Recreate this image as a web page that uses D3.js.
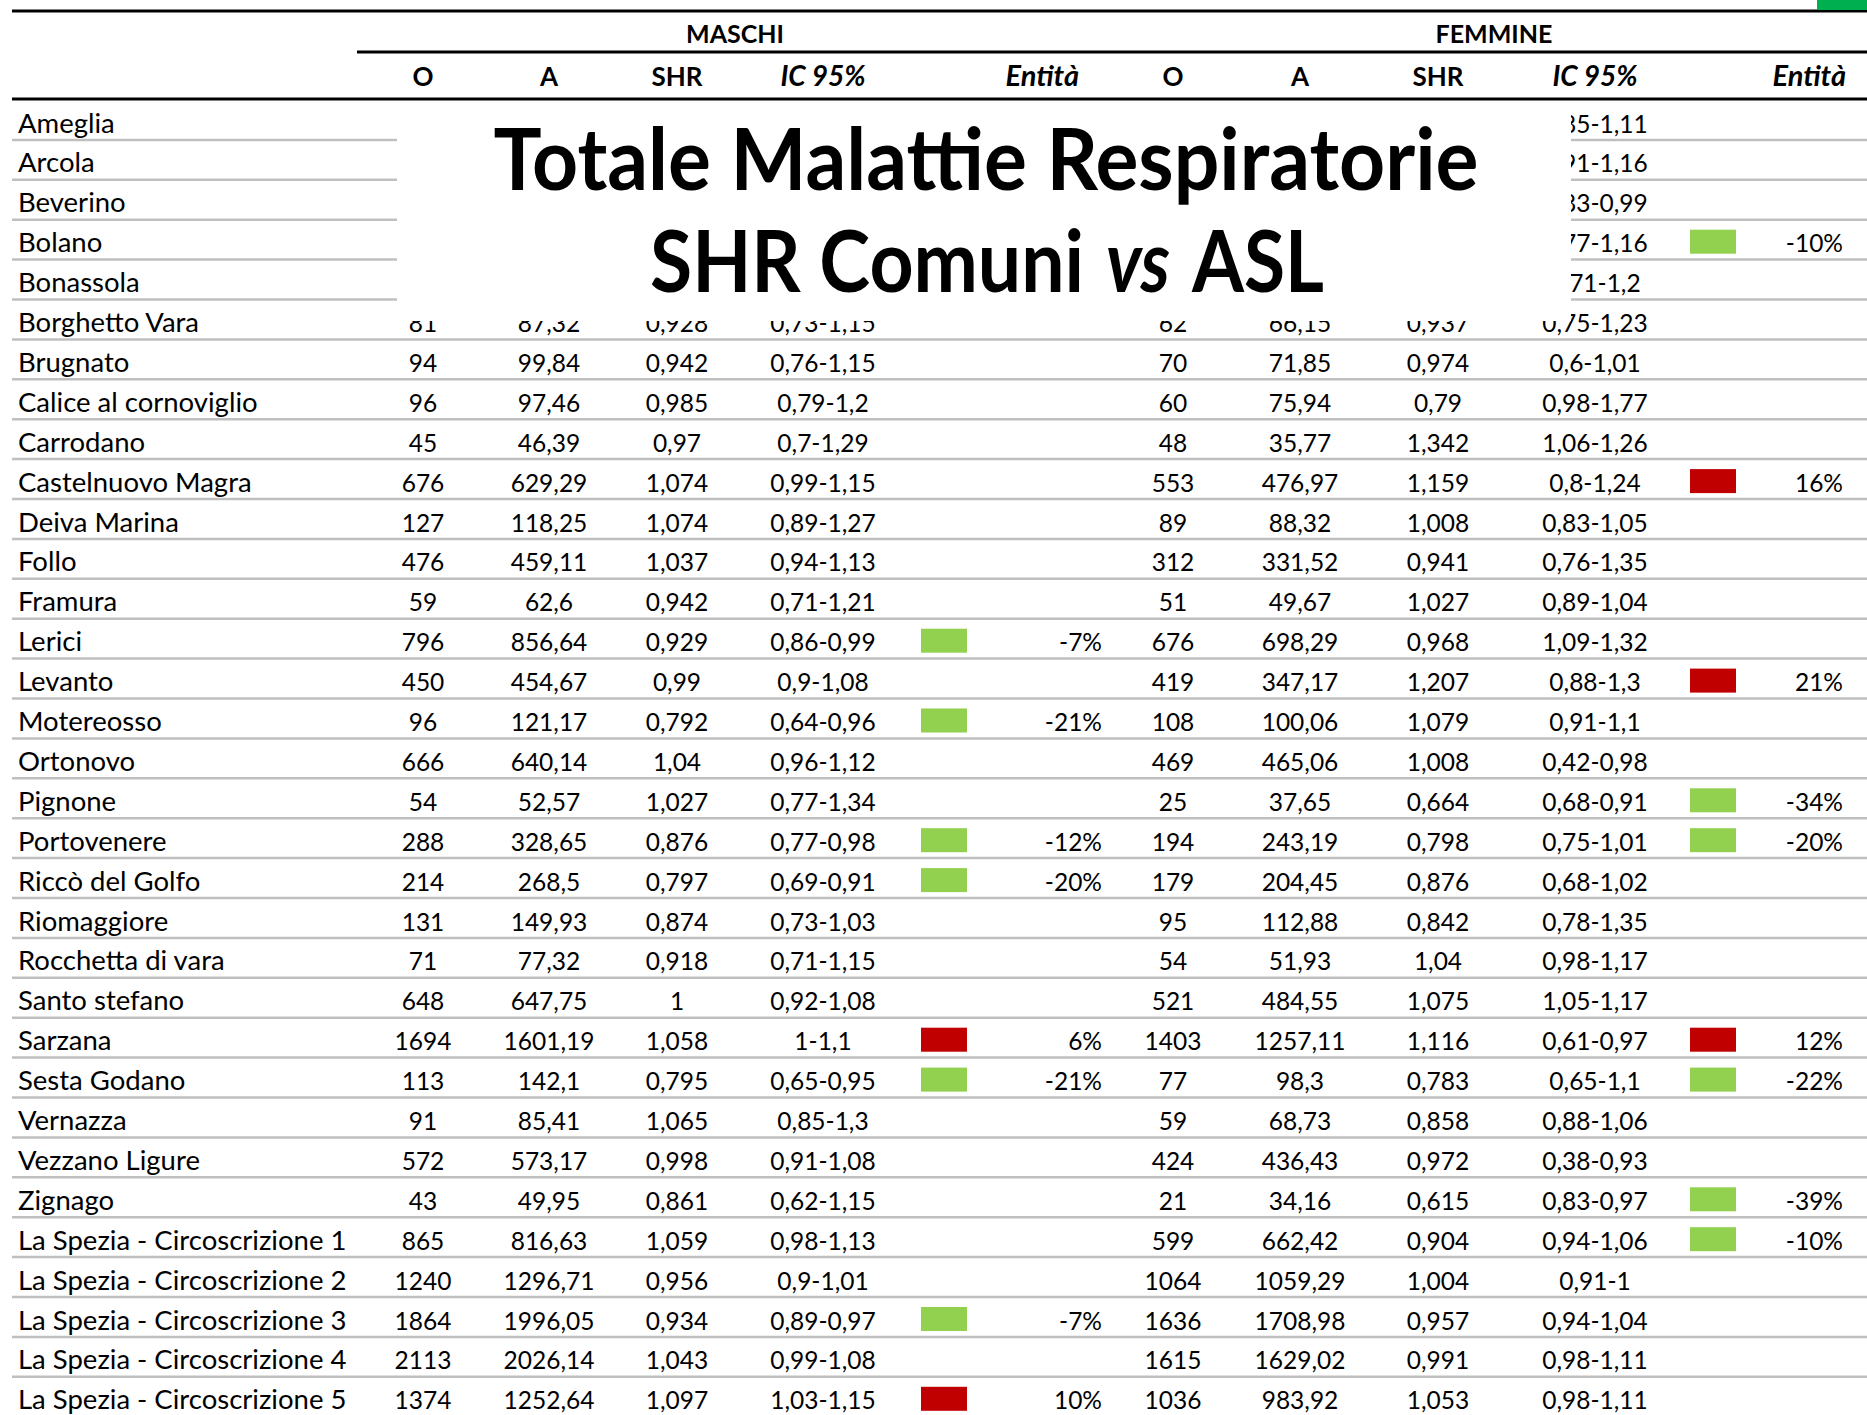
<!DOCTYPE html>
<html>
<head>
<meta charset="utf-8">
<script src="https://cdn.jsdelivr.net/npm/d3@7"></script>
<style>
  body { margin: 0; background: #fff; }
  svg { display: block; }
  text { font-family: Lato, "Open Sans", sans-serif; fill: #000; }
</style>
</head>
<body>
<div class="chart"></div>
<script>
var svgWidth = 1867;
var svgHeight = 1415;

// comuni (rows)
var comuni = ["Ameglia", "Arcola", "Beverino", "Bolano", "Bonassola", "Borghetto Vara", "Brugnato",
  "Calice al cornoviglio", "Carrodano", "Castelnuovo Magra", "Deiva Marina", "Follo", "Framura",
  "Lerici", "Levanto", "Motereosso", "Ortonovo", "Pignone", "Portovenere", "Riccò del Golfo",
  "Riomaggiore", "Rocchetta di vara", "Santo stefano", "Sarzana", "Sesta Godano", "Vernazza",
  "Vezzano Ligure", "Zignago", "La Spezia - Circoscrizione 1", "La Spezia - Circoscrizione 2",
  "La Spezia - Circoscrizione 3", "La Spezia - Circoscrizione 4", "La Spezia - Circoscrizione 5"];

// MASCHI (first five rows are hidden under the title box)
var mO   = [null, null, null, null, null, 81, 94, 96, 45, 676, 127, 476, 59, 796, 450, 96, 666, 54, 288, 214, 131, 71, 648, 1694, 113, 91, 572, 43, 865, 1240, 1864, 2113, 1374];
var mA   = [null, null, null, null, null, 87.32, 99.84, 97.46, 46.39, 629.29, 118.25, 459.11, 62.6, 856.64, 454.67, 121.17, 640.14, 52.57, 328.65, 268.5, 149.93, 77.32, 647.75, 1601.19, 142.1, 85.41, 573.17, 49.95, 816.63, 1296.71, 1996.05, 2026.14, 1252.64];
var mSHR = [null, null, null, null, null, 0.928, 0.942, 0.985, 0.97, 1.074, 1.074, 1.037, 0.942, 0.929, 0.99, 0.792, 1.04, 1.027, 0.876, 0.797, 0.874, 0.918, 1, 1.058, 0.795, 1.065, 0.998, 0.861, 1.059, 0.956, 0.934, 1.043, 1.097];
var mLo  = [null, null, null, null, null, 0.73, 0.76, 0.79, 0.7, 0.99, 0.89, 0.94, 0.71, 0.86, 0.9, 0.64, 0.96, 0.77, 0.77, 0.69, 0.73, 0.71, 0.92, 1, 0.65, 0.85, 0.91, 0.62, 0.98, 0.9, 0.89, 0.99, 1.03];
var mHi  = [null, null, null, null, null, 1.15, 1.15, 1.2, 1.29, 1.15, 1.27, 1.13, 1.21, 0.99, 1.08, 0.96, 1.12, 1.34, 0.98, 0.91, 1.03, 1.15, 1.08, 1.1, 0.95, 1.3, 1.08, 1.15, 1.13, 1.01, 0.97, 1.08, 1.15];
var mEnt = [null, null, null, null, null, null, null, null, null, null, null, null, null, -7, null, -21, null, null, -12, -20, null, null, null, 6, -21, null, null, null, null, null, -7, null, 10];

// FEMMINE
var fO   = [null, null, null, null, null, 62, 70, 60, 48, 553, 89, 312, 51, 676, 419, 108, 469, 25, 194, 179, 95, 54, 521, 1403, 77, 59, 424, 21, 599, 1064, 1636, 1615, 1036];
var fA   = [null, null, null, null, null, 66.15, 71.85, 75.94, 35.77, 476.97, 88.32, 331.52, 49.67, 698.29, 347.17, 100.06, 465.06, 37.65, 243.19, 204.45, 112.88, 51.93, 484.55, 1257.11, 98.3, 68.73, 436.43, 34.16, 662.42, 1059.29, 1708.98, 1629.02, 983.92];
var fSHR = [null, null, null, null, null, 0.937, 0.974, 0.79, 1.342, 1.159, 1.008, 0.941, 1.027, 0.968, 1.207, 1.079, 1.008, 0.664, 0.798, 0.876, 0.842, 1.04, 1.075, 1.116, 0.783, 0.858, 0.972, 0.615, 0.904, 1.004, 0.957, 0.991, 1.053];
var fLo  = [0.85, 0.91, 0.83, 0.77, 0.71, 0.75, 0.6, 0.98, 1.06, 0.8, 0.83, 0.76, 0.89, 1.09, 0.88, 0.91, 0.42, 0.68, 0.75, 0.68, 0.78, 0.98, 1.05, 0.61, 0.65, 0.88, 0.38, 0.83, 0.94, 0.91, 0.94, 0.98, 0.98];
var fHi  = [1.11, 1.16, 0.99, 1.16, 1.2, 1.23, 1.01, 1.77, 1.26, 1.24, 1.05, 1.35, 1.04, 1.32, 1.3, 1.1, 0.98, 0.91, 1.01, 1.02, 1.35, 1.17, 1.17, 0.97, 1.1, 1.06, 0.93, 0.97, 1.06, 1, 1.04, 1.11, 1.11];
var fEnt = [null, null, null, -10, null, null, null, null, null, 16, null, null, null, null, 21, null, null, -34, -20, null, null, null, null, 12, -22, null, null, -39, -10, null, null, null, null];

var colonne = ["O", "A", "SHR", "IC 95%", "Entità"];
var gruppi = ["MASCHI", "FEMMINE"];
var titolo1 = "Totale Malattie Respiratorie";

var fmt = function(v) { return String(v).replace(".", ","); };

var svg = d3.select(".chart")
  .append("svg")
  .attr("width", svgWidth)
  .attr("height", svgHeight);

var rowY = d3.scaleBand()
  .domain(d3.range(comuni.length))
  .range([100, 100 + 39.9 * comuni.length]);

// column centres for each group
var xM = d3.scaleOrdinal().domain(["O", "A", "SHR", "IC", "box", "ent", "head"]).range([423, 549, 677, 823, 921, 1102, 1079]);
var xF = d3.scaleOrdinal().domain(["O", "A", "SHR", "IC", "box", "ent", "head"]).range([1173, 1300, 1438, 1595, 1690, 1843, 1846]);

var groups = [
  { x: xM, O: mO, A: mA, SHR: mSHR, lo: mLo, hi: mHi, ent: mEnt, name: gruppi[0], cx: 735 },
  { x: xF, O: fO, A: fA, SHR: fSHR, lo: fLo, hi: fHi, ent: fEnt, name: gruppi[1], cx: 1494 }
];

// row separators
svg.append("g").selectAll("line")
  .data(comuni)
  .enter().append("line")
  .attr("x1", 12).attr("x2", svgWidth)
  .attr("y1", (d, i) => rowY(i) + rowY.bandwidth())
  .attr("y2", (d, i) => rowY(i) + rowY.bandwidth())
  .attr("stroke", "#bfbfbf")
  .attr("stroke-width", 2.5);

// row names
svg.append("g").selectAll("text")
  .data(comuni)
  .enter().append("text")
  .attr("x", 18)
  .attr("y", (d, i) => rowY(i) + 32.5)
  .attr("font-size", 27.5)
  .text(d => d);

var body = svg.append("g").attr("font-size", 24.5).attr("text-anchor", "middle");

groups.forEach(function(g) {
  comuni.forEach(function(c, i) {
    ["O", "A", "SHR"].forEach(function(k) {
      if (g[k][i] === null) return;
      body.append("text")
        .attr("x", g.x(k))
        .attr("y", rowY(i) + 32.5)
        .text(fmt(g[k][i]));
    });
    if (g.lo[i] !== null) {
      body.append("text")
        .attr("x", g.x("IC"))
        .attr("y", rowY(i) + 32.5)
        .text(fmt(g.lo[i]) + "-" + fmt(g.hi[i]));
    }
    if (g.ent[i] !== null) {
      body.append("rect")
        .attr("x", g.x("box"))
        .attr("y", rowY(i) + 10)
        .attr("width", 46)
        .attr("height", 24)
        .attr("fill", g.ent[i] < 0 ? "#92d050" : "#c00000");
      body.append("text")
        .attr("x", g.x("ent"))
        .attr("y", rowY(i) + 32.5)
        .attr("text-anchor", "end")
        .text(g.ent[i] + "%");
    }
  });
});

// header
var head = svg.append("g").attr("font-size", 25).attr("font-weight", "bold");
head.append("line").attr("x1", 12).attr("x2", svgWidth).attr("y1", 11).attr("y2", 11).attr("stroke", "#000").attr("stroke-width", 3);
head.append("line").attr("x1", 357).attr("x2", svgWidth).attr("y1", 52).attr("y2", 52).attr("stroke", "#000").attr("stroke-width", 3);
head.append("line").attr("x1", 12).attr("x2", svgWidth).attr("y1", 99).attr("y2", 99).attr("stroke", "#000").attr("stroke-width", 3);
head.append("rect").attr("x", 1817).attr("y", 0).attr("width", 50).attr("height", 10).attr("fill", "#00b050");

groups.forEach(function(g) {
  head.append("text").attr("x", g.cx).attr("y", 43).attr("text-anchor", "middle").text(g.name);
  ["O", "A", "SHR", "IC"].forEach(function(k, j) {
    head.append("text")
      .attr("x", g.x(k))
      .attr("y", 86)
      .attr("text-anchor", "middle")
      .attr("font-size", k === "IC" ? 28 : 26)
      .attr("font-style", k === "IC" ? "italic" : null)
      .text(colonne[j]);
  });
  head.append("text")
    .attr("x", g.x("head"))
    .attr("y", 86)
    .attr("text-anchor", "end")
    .attr("font-size", 29)
    .attr("font-style", "italic")
    .text(colonne[4]);
});

// title box over the first rows
svg.append("rect")
  .attr("x", 397).attr("y", 101)
  .attr("width", 1174).attr("height", 220)
  .attr("fill", "#fff");

var title = svg.append("g").attr("font-size", 86).attr("font-weight", "bold");
title.append("text").attr("x", 986).attr("y", 190)
  .attr("text-anchor", "middle")
  .attr("textLength", 985).attr("lengthAdjust", "spacingAndGlyphs")
  .text(titolo1);
// second line: three pieces laid out side by side
var parts = [
  { t: "SHR Comuni", x: 650, w: 434, italic: false },
  { t: "vs", x: 1106, w: 64, italic: true },
  { t: "ASL", x: 1192, w: 132, italic: false }
];
title.selectAll("text.l2")
  .data(parts)
  .enter().append("text")
  .attr("class", "l2")
  .attr("x", d => d.x)
  .attr("y", 292)
  .attr("font-style", d => d.italic ? "italic" : null)
  .attr("textLength", d => d.w)
  .attr("lengthAdjust", "spacingAndGlyphs")
  .text(d => d.t);
</script>
</body>
</html>
